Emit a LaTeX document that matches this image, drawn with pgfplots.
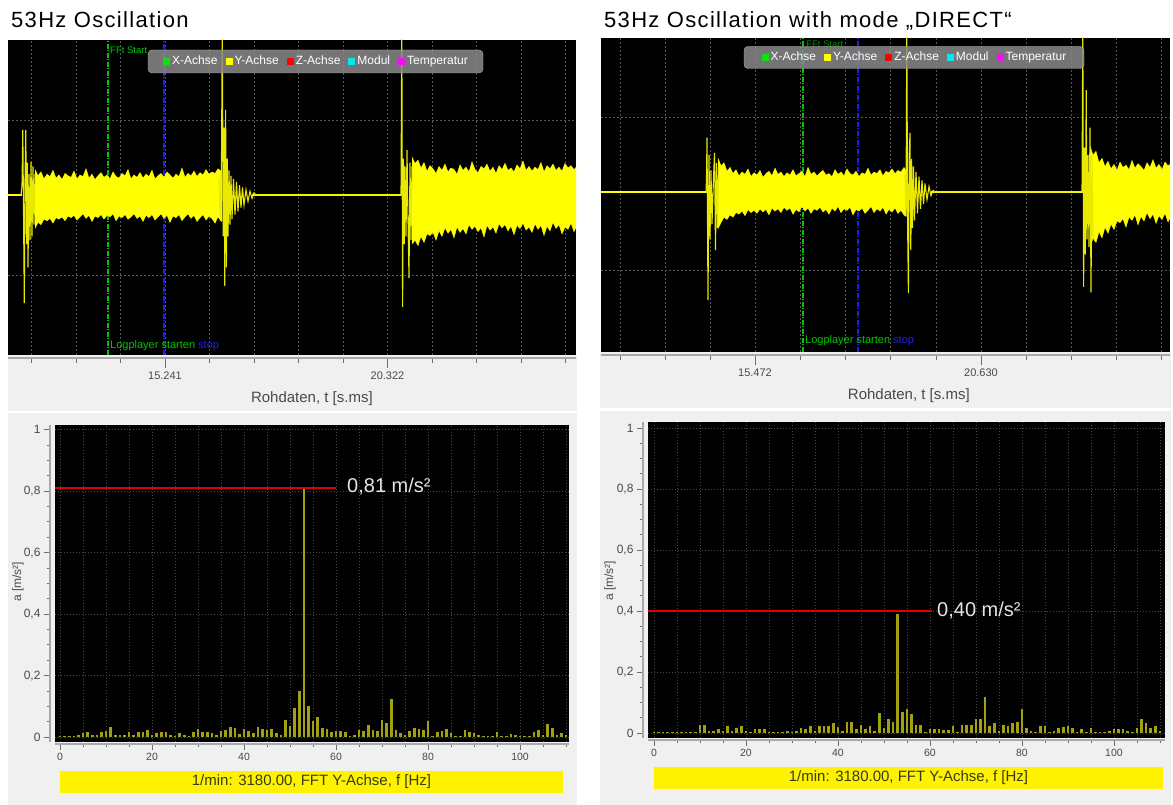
\documentclass[border=0pt]{standalone}
\usepackage{fontspec}
\setmainfont{Liberation Sans}
\newfontfamily\titlefont[LetterSpace=6]{Liberation Sans}
\usepackage{pgfplots}
\usepackage{pgfplotstable}
\pgfplotsset{compat=1.18}
\definecolor{panelgray}{HTML}{F0F0F0}
\definecolor{rulergray}{HTML}{A8A8A8}
\definecolor{tickgray}{HTML}{6E6E6E}
\definecolor{labelgray}{HTML}{4A4A4A}
\definecolor{topgrid}{HTML}{555555}
\definecolor{botgrid}{HTML}{474747}
\definecolor{sigyellow}{HTML}{FFFF00}
\definecolor{spikeyellow}{HTML}{E8E800}
\definecolor{barolive}{HTML}{A0A010}
\definecolor{mkgreen}{HTML}{00C800}
\definecolor{mkblue}{HTML}{2020F0}
\definecolor{redline}{HTML}{E00000}
\definecolor{valtext}{HTML}{E4E4E4}
\definecolor{legfill}{HTML}{8A8A8A}
\definecolor{barlabel}{HTML}{3A3A1A}
\definecolor{lgreen}{HTML}{10E010}
\definecolor{lcyan}{HTML}{00E8F0}
\definecolor{lmag}{HTML}{F010F0}

\pgfplotstableread{
f a
0 0.003
1 0.004
2 0.004
3 0.005
4 0.006
5 0.014
6 0.016
7 0.008
8 0.006
9 0.015
10 0.020
11 0.034
12 0.006
13 0.006
14 0.008
15 0.016
16 0.008
17 0.018
18 0.018
19 0.024
20 0.006
21 0.012
22 0.018
23 0.018
24 0.006
25 0.004
26 0.014
27 0.008
28 0.004
29 0.018
30 0.026
31 0.016
32 0.018
33 0.014
34 0.008
35 0.020
36 0.022
37 0.032
38 0.028
39 0.010
40 0.026
41 0.020
42 0.012
43 0.032
44 0.026
45 0.022
46 0.026
47 0.014
48 0.006
49 0.057
50 0.036
51 0.093
52 0.150
53 0.810
54 0.102
55 0.052
56 0.064
57 0.030
58 0.025
59 0.016
60 0.020
61 0.020
62 0.016
63 0.004
64 0.006
65 0.022
66 0.020
67 0.040
68 0.022
69 0.020
70 0.057
71 0.045
72 0.123
73 0.022
74 0.012
75 0.006
76 0.020
77 0.028
78 0.026
79 0.024
80 0.052
81 0.004
82 0.016
83 0.020
84 0.026
85 0.012
86 0.004
87 0.005
88 0.024
89 0.016
90 0.012
91 0.006
92 0.004
93 0.004
94 0.004
95 0.016
96 0.004
97 0.004
98 0.010
99 0.006
100 0.004
101 0.004
102 0.004
103 0.016
104 0.022
105 0.006
106 0.044
107 0.028
108 0.006
109 0.012
110 0.006
}\fftleft

\pgfplotstableread{
f a
0 0.003
1 0.003
2 0.003
3 0.004
4 0.004
5 0.003
6 0.004
7 0.004
8 0.004
9 0.004
10 0.027
11 0.027
12 0.005
13 0.008
14 0.013
15 0.006
16 0.024
17 0.008
18 0.016
19 0.024
20 0.006
21 0.004
22 0.014
23 0.014
24 0.014
25 0.004
26 0.004
27 0.004
28 0.004
29 0.006
30 0.004
31 0.008
32 0.016
33 0.012
34 0.024
35 0.008
36 0.022
37 0.022
38 0.022
39 0.032
40 0.020
41 0.006
42 0.035
43 0.035
44 0.014
45 0.027
46 0.014
47 0.024
48 0.006
49 0.065
50 0.016
51 0.046
52 0.035
53 0.390
54 0.070
55 0.078
56 0.062
57 0.027
58 0.027
59 0.004
60 0.012
61 0.012
62 0.012
63 0.010
64 0.010
65 0.022
66 0.004
67 0.027
68 0.027
69 0.027
70 0.046
71 0.046
72 0.118
73 0.024
74 0.032
75 0.008
76 0.027
77 0.024
78 0.033
79 0.036
80 0.078
81 0.018
82 0.006
83 0.004
84 0.024
85 0.022
86 0.004
87 0.006
88 0.018
89 0.020
90 0.022
91 0.016
92 0.004
93 0.014
94 0.004
95 0.016
96 0.004
97 0.004
98 0.004
99 0.006
100 0.012
101 0.014
102 0.014
103 0.006
104 0.004
105 0.016
106 0.045
107 0.033
108 0.016
109 0.022
110 0.006
}\fftright

\pgfplotsset{
  topplot/.style={
    scale only axis, clip=true,
    axis x line*=bottom, axis y line*=left,
    axis x line shift=3pt,
    x axis line style={draw=rulergray, line width=2pt},
    y axis line style={draw=none},
    tick align=outside,
    xtick style={draw=tickgray, line width=0.8pt},
    ytick style={draw=none},
    major tick length=10pt, minor tick length=5pt,
    ytick={-1,1}, yticklabels={},
    xmajorgrids, xminorgrids, ymajorgrids,
    grid style={draw=topgrid, dash pattern=on 2pt off 2pt, line width=0.7pt},
    minor grid style={draw=topgrid, dash pattern=on 2pt off 2pt, line width=0.7pt},
    xticklabel style={font=\fontsize{11}{13}\selectfont, text=labelgray},
    xlabel style={font=\fontsize{15}{18}\selectfont, text=labelgray, anchor=center},
  },
  fftplot/.style={
    scale only axis, clip=true,
    axis x line*=bottom, axis y line*=left,
    axis x line shift=2pt, axis y line shift=5pt,
    axis line style={draw=rulergray, line width=1.5pt},
    tick align=outside,
    tick style={draw=tickgray, line width=0.8pt},
    major tick length=6pt, minor tick length=3.5pt,
    xtick={0,20,40,60,80,100}, xticklabels={0,20,40,60,80,100},
    minor xtick={5,10,15,25,30,35,45,50,55,65,70,75,85,90,95,105,110},
    ytick={0,0.2,0.4,0.6,0.8,1}, yticklabels={0,{0,2},{0,4},{0,6},{0,8},1},
    minor ytick={0.05,0.1,0.15,0.25,0.3,0.35,0.45,0.5,0.55,0.65,0.7,0.75,0.85,0.9,0.95},
    xmajorgrids, xminorgrids, ymajorgrids,
    grid style={draw=botgrid, dash pattern=on 1pt off 2pt, line width=0.7pt},
    minor grid style={draw=botgrid, dash pattern=on 1pt off 2pt, line width=0.7pt},
    xticklabel style={font=\fontsize{10.5}{12}\selectfont, text=labelgray},
    yticklabel style={font=\fontsize{12}{14}\selectfont, text=labelgray},
  },
}
\newcommand{\lsq}[1]{\textcolor{#1}{\rule[-0.3pt]{7pt}{7pt}}\hspace{2pt}}

\begin{document}
\begin{tikzpicture}[x=1pt,y=1pt]
\useasboundingbox (0,0) rectangle (1173,805);
\fill[white] (0,0) rectangle (1173,805);
% panels
\fill[panelgray] (8,0) rectangle (577,450);
\fill[panelgray] (600,0) rectangle (1171,453);
\fill[white] (8,391.5) rectangle (577,394);
\fill[white] (600,394) rectangle (1171,396.5);
% black plot areas
\fill[black] (8,450) rectangle (576,765);
\fill[black] (601,453) rectangle (1170,767);
\fill[black] (55,63) rectangle (569,380);
\fill[black] (648,67) rectangle (1165,383);

% titles
\node[anchor=base west, inner sep=0pt, font=\titlefont\fontsize{22}{26}\selectfont] at (11,777) {53Hz Oscillation};
\node[anchor=base west, inner sep=0pt, font=\titlefont\fontsize{22}{26}\selectfont] at (604,777) {53Hz Oscillation with mode „DIRECT“};

% ---------------- top left: raw data ----------------
\begin{axis}[topplot, at={(8pt,450pt)}, anchor=south west, width=568pt, height=315pt,
  xmin=8, xmax=576, ymin=-2.03, ymax=2.03,
  xtick={165,387.5}, xticklabels={15.241,20.322},
  minor xtick={31.5,76,120.5,209.5,254,298.5,343,432,476.5,521,565.5},
  xlabel={Rohdaten, t [s.ms]}, xlabel style={at={(axis description cs:0.535,-0.137)}}]
\addplot[mkgreen, line width=1.2pt, dash pattern=on 5pt off 1.5pt on 1pt off 1.5pt] coordinates {(108,-2.03) (108,2.03)};
\addplot[mkblue, line width=1.2pt, dash pattern=on 5pt off 1.5pt on 1pt off 1.5pt] coordinates {(164,-2.03) (164,2.03)};
% noise band 1
\addplot[fill=sigyellow, draw=sigyellow, line width=0.4pt] coordinates {
(35,0.36) (38,0.28) (41,0.33) (44,0.24) (47,0.30) (50,0.27) (53,0.35) (56,0.25) (59,0.29) (62,0.23) (65,0.31) (68,0.28) (71,0.26) (74,0.34) (77,0.24) (80,0.29) (83,0.27) (86,0.37) (89,0.25) (92,0.30) (95,0.23) (98,0.28) (101,0.32) (104,0.26) (107,0.29) (110,0.24) (113,0.33) (116,0.27) (119,0.25) (122,0.31) (125,0.28) (128,0.36) (131,0.24) (134,0.29) (137,0.26) (140,0.32) (143,0.25) (146,0.30) (149,0.27) (152,0.35) (155,0.24) (158,0.28) (161,0.31) (164,0.26) (167,0.33) (170,0.29) (173,0.25) (176,0.30) (179,0.27) (182,0.38) (185,0.26) (188,0.31) (191,0.28) (194,0.34) (197,0.27) (200,0.32) (203,0.29) (206,0.36) (209,0.30) (212,0.33) (215,0.31) (218,0.37) (221,0.34) (222,0.32)
(222,-0.31) (221,-0.30) (218,-0.25) (215,-0.33) (212,-0.27) (209,-0.24) (206,-0.29) (203,-0.22) (200,-0.26) (197,-0.31) (194,-0.23) (191,-0.27) (188,-0.21) (185,-0.25) (182,-0.30) (179,-0.22) (176,-0.26) (173,-0.24) (170,-0.32) (167,-0.23) (164,-0.27) (161,-0.21) (158,-0.25) (155,-0.29) (152,-0.22) (149,-0.26) (146,-0.23) (143,-0.31) (140,-0.24) (137,-0.27) (134,-0.21) (131,-0.25) (128,-0.28) (125,-0.22) (122,-0.26) (119,-0.24) (116,-0.30) (113,-0.21) (110,-0.25) (107,-0.23) (104,-0.28) (101,-0.22) (98,-0.26) (95,-0.24) (92,-0.31) (89,-0.23) (86,-0.27) (83,-0.21) (80,-0.25) (77,-0.29) (74,-0.23) (71,-0.26) (68,-0.24) (65,-0.30) (62,-0.25) (59,-0.28) (56,-0.26) (53,-0.33) (50,-0.27) (47,-0.30) (44,-0.28) (41,-0.35) (38,-0.32) (35,-0.40)};
% noise band 2
\addplot[fill=sigyellow, draw=sigyellow, line width=0.4pt] coordinates {
(412,0.52) (415,0.44) (418,0.48) (421,0.38) (424,0.45) (427,0.34) (430,0.41) (433,0.37) (436,0.31) (439,0.40) (442,0.35) (445,0.43) (448,0.33) (451,0.38) (454,0.36) (457,0.30) (460,0.42) (463,0.35) (466,0.39) (469,0.33) (472,0.46) (475,0.36) (478,0.32) (481,0.40) (484,0.37) (487,0.43) (490,0.34) (493,0.39) (496,0.31) (499,0.41) (502,0.36) (505,0.44) (508,0.35) (511,0.38) (514,0.33) (517,0.42) (520,0.37) (523,0.47) (526,0.35) (529,0.40) (532,0.34) (535,0.39) (538,0.36) (541,0.45) (544,0.33) (547,0.41) (550,0.37) (553,0.43) (556,0.35) (559,0.39) (562,0.34) (565,0.44) (568,0.38) (571,0.41) (574,0.36) (577,0.40)
(577,-0.36) (574,-0.44) (571,-0.33) (568,-0.41) (565,-0.38) (562,-0.47) (559,-0.35) (556,-0.40) (553,-0.32) (550,-0.43) (547,-0.37) (544,-0.49) (541,-0.36) (538,-0.41) (535,-0.34) (532,-0.45) (529,-0.38) (526,-0.42) (523,-0.33) (520,-0.40) (517,-0.36) (514,-0.48) (511,-0.37) (508,-0.43) (505,-0.35) (502,-0.39) (499,-0.34) (496,-0.46) (493,-0.38) (490,-0.42) (487,-0.36) (484,-0.51) (481,-0.39) (478,-0.44) (475,-0.37) (472,-0.41) (469,-0.35) (466,-0.47) (463,-0.40) (460,-0.45) (457,-0.38) (454,-0.52) (451,-0.41) (448,-0.46) (445,-0.39) (442,-0.50) (439,-0.43) (436,-0.55) (433,-0.45) (430,-0.49) (427,-0.47) (424,-0.58) (421,-0.50) (418,-0.62) (415,-0.55) (412,-0.60)};
% flat parts
\addplot[sigyellow, line width=2.5pt] coordinates {(8,0.03) (21.5,0.03)};
\addplot[sigyellow, line width=2.5pt] coordinates {(252,0.03) (401.3,0.03)};
% spikes
\addplot[spikeyellow, line width=1.1pt] coordinates {
(21,0.03) (22,0.15) (22.8,0.87) (23.6,-0.3) (24.3,-1.36) (25,0.2) (25.8,0.87) (26.6,-0.6) (27.3,0.45) (28,-0.9) (29,0.3) (30,-0.55) (31,0.46) (32,-0.5) (33,0.4) (34,-0.35) (35,0.3)};
\addplot[spikeyellow, line width=1.1pt] coordinates {
(219,0.25) (220.5,-0.3) (221.5,0.5) (222.3,2.2) (223.2,-0.5) (224,0.9) (224.8,-1.14) (225.6,1.13) (226.4,-0.9) (227.2,0.5) (228,-0.5) (229,0.35) (230,-0.35) (231,0.28) (232,-0.28) (233.5,0.24) (235,-0.22) (236.5,0.2) (238,-0.18) (239.5,0.16) (241,-0.13) (242.5,0.13) (244,-0.1) (246,0.1) (248,-0.05) (250,0.08) (252,-0.01) (254,0.06) (256,0.03)
(401,0.03) (401.8,2.2) (402.6,-1.41) (403.4,0.5) (404.2,-0.6) (405,0.4) (406,-0.5) (407,0.61) (408,-0.3) (409,-1.04) (410,0.45) (411,-0.55) (412,0.4)};
\end{axis}

% ---------------- top right: raw data ----------------
\begin{axis}[topplot, at={(601pt,453pt)}, anchor=south west, width=569pt, height=314pt,
  xmin=601, xmax=1170, ymin=-2.07, ymax=2.03,
  xtick={755,981}, xticklabels={15.472,20.630},
  minor xtick={620,665,710,800,845,890,936,1026,1071,1116,1161},
  xlabel={Rohdaten, t [s.ms]}, xlabel style={at={(axis description cs:0.541,-0.14)}}]
\addplot[mkgreen, line width=1.2pt, dash pattern=on 5pt off 1.5pt on 1pt off 1.5pt] coordinates {(803,-2.07) (803,2.03)};
\addplot[mkblue, line width=1.2pt, dash pattern=on 5pt off 1.5pt on 1pt off 1.5pt] coordinates {(858,-2.07) (858,2.03)};
\addplot[fill=sigyellow, draw=sigyellow, line width=0.4pt] coordinates {
(718,0.46) (721,0.36) (724,0.40) (727,0.29) (730,0.34) (733,0.26) (736,0.31) (739,0.23) (742,0.28) (745,0.25) (748,0.32) (751,0.22) (754,0.27) (757,0.24) (760,0.30) (763,0.21) (766,0.26) (769,0.29) (772,0.23) (775,0.33) (778,0.25) (781,0.28) (784,0.22) (787,0.27) (790,0.24) (793,0.31) (796,0.23) (799,0.26) (802,0.29) (805,0.22) (808,0.34) (811,0.25) (814,0.28) (817,0.23) (820,0.27) (823,0.30) (826,0.24) (829,0.26) (832,0.22) (835,0.31) (838,0.25) (841,0.28) (844,0.23) (847,0.32) (850,0.26) (853,0.24) (856,0.29) (859,0.22) (862,0.27) (865,0.25) (868,0.33) (871,0.24) (874,0.28) (877,0.26) (880,0.31) (883,0.23) (886,0.29) (889,0.27) (892,0.32) (895,0.26) (898,0.30) (901,0.28) (904,0.34) (906,0.30)
(906,-0.30) (904,-0.28) (901,-0.22) (898,-0.26) (895,-0.19) (892,-0.24) (889,-0.21) (886,-0.27) (883,-0.18) (880,-0.23) (877,-0.20) (874,-0.25) (871,-0.17) (868,-0.22) (865,-0.26) (862,-0.19) (859,-0.23) (856,-0.21) (853,-0.28) (850,-0.18) (847,-0.22) (844,-0.20) (841,-0.25) (838,-0.17) (835,-0.23) (832,-0.19) (829,-0.27) (826,-0.21) (823,-0.24) (820,-0.18) (817,-0.22) (814,-0.20) (811,-0.26) (808,-0.19) (805,-0.23) (802,-0.17) (799,-0.24) (796,-0.21) (793,-0.27) (790,-0.19) (787,-0.22) (784,-0.18) (781,-0.25) (778,-0.20) (775,-0.23) (772,-0.19) (769,-0.28) (766,-0.21) (763,-0.24) (760,-0.20) (757,-0.26) (754,-0.22) (751,-0.25) (748,-0.21) (745,-0.29) (742,-0.23) (739,-0.27) (736,-0.25) (733,-0.31) (730,-0.28) (727,-0.34) (724,-0.31) (721,-0.38) (718,-0.46)};
\addplot[fill=sigyellow, draw=sigyellow, line width=0.4pt] coordinates {
(1090,0.62) (1093,0.50) (1096,0.55) (1099,0.40) (1102,0.46) (1105,0.35) (1108,0.42) (1111,0.32) (1114,0.38) (1117,0.30) (1120,0.41) (1123,0.34) (1126,0.37) (1129,0.31) (1132,0.43) (1135,0.33) (1138,0.39) (1141,0.35) (1144,0.30) (1147,0.40) (1150,0.34) (1153,0.44) (1156,0.33) (1159,0.38) (1162,0.31) (1165,0.41) (1168,0.36) (1171,0.39)
(1171,-0.30) (1168,-0.37) (1165,-0.26) (1162,-0.34) (1159,-0.29) (1156,-0.39) (1153,-0.27) (1150,-0.33) (1147,-0.25) (1144,-0.36) (1141,-0.30) (1138,-0.41) (1135,-0.28) (1132,-0.35) (1129,-0.31) (1126,-0.44) (1123,-0.33) (1120,-0.38) (1117,-0.36) (1114,-0.47) (1111,-0.40) (1108,-0.52) (1105,-0.44) (1102,-0.58) (1099,-0.50) (1096,-0.64) (1093,-0.58) (1090,-0.72)};
\addplot[sigyellow, line width=2.5pt] coordinates {(601,0.02) (706.5,0.02)};
\addplot[sigyellow, line width=2.5pt] coordinates {(931,0.02) (1082.5,0.02)};
\addplot[spikeyellow, line width=1.1pt] coordinates {
(706,0.02) (706.5,0.2) (707,0.73) (708,-1.39) (709,0.5) (710,-0.6) (711,0.3) (712,-0.4) (713.5,0.2) (714.5,0.53) (715.5,-0.74) (716.5,0.4) (717.5,-0.45) (718.5,0.35)};
\addplot[spikeyellow, line width=1.1pt] coordinates {
(905,0.25) (906,-0.3) (906.8,2.2) (907.6,-0.4) (908.4,-1.3) (909.2,0.5) (910,0.79) (910.8,-0.74) (911.6,0.45) (912.5,-0.45) (913.5,0.35) (914.5,-0.35) (916,0.28) (917.5,-0.26) (919,0.22) (920.5,-0.2) (922,0.17) (923.5,-0.14) (925,0.13) (927,-0.08) (929,0.09) (931,-0.03) (933,0.04) (935,0.02)
(1082,0.02) (1082.8,2.2) (1083.6,-1.22) (1084.5,0.6) (1085.3,-0.8) (1086.2,1.35) (1087,-0.6) (1088,0.5) (1089,-0.7) (1090,0.86) (1091,-1.29) (1092,0.5) (1093,-0.6)};
\end{axis}

% ---------------- bottom left: FFT ----------------
\begin{axis}[fftplot, at={(55pt,63pt)}, anchor=south west, width=514pt, height=317pt,
  xmin=-1.09, xmax=110.65, ymin=-0.016, ymax=1.015]
\addplot[ycomb, draw=barolive, line width=2.6pt, mark=none] table[x=f,y=a]{\fftleft};
\addplot[redline, line width=2.6pt] coordinates {(-1.09,0.81) (60,0.81)};
\end{axis}

% ---------------- bottom right: FFT ----------------
\begin{axis}[fftplot, at={(648pt,67pt)}, anchor=south west, width=517pt, height=316pt,
  xmin=-1.3, xmax=111.09, ymin=-0.0164, ymax=1.0197]
\addplot[ycomb, draw=barolive, line width=2.6pt, mark=none] table[x=f,y=a]{\fftright};
\addplot[redline, line width=2.6pt] coordinates {(-1.3,0.40) (60.4,0.40)};
\end{axis}

% value labels
\node[anchor=west, text=valtext, font=\fontsize{20}{24}\selectfont, inner sep=0pt] at (347,318) {0,81 m/s²};
\node[anchor=west, text=valtext, font=\fontsize{20}{24}\selectfont, inner sep=0pt] at (937,194) {0,40 m/s²};

% FFT x-labels (yellow bars)
\node[fill=yellow, minimum width=503pt, minimum height=22pt, inner sep=0pt, text=barlabel, font=\fontsize{15}{18}\selectfont] at (311.5,23) {1/min: 3180.00, FFT Y-Achse, f [Hz]};
\node[fill=yellow, minimum width=509pt, minimum height=22pt, inner sep=0pt, text=barlabel, font=\fontsize{15}{18}\selectfont] at (908.5,27) {1/min: 3180.00, FFT Y-Achse, f [Hz]};

% FFT y-labels
\node[rotate=90, text=labelgray, font=\fontsize{12}{14}\selectfont, inner sep=0pt] at (18,223) {a [m/s²]};
\node[rotate=90, text=labelgray, font=\fontsize{12}{14}\selectfont, inner sep=0pt] at (610,224) {a [m/s²]};

% marker texts
\node[anchor=west, text=mkgreen, font=\fontsize{9.5}{11}\selectfont, inner sep=0pt] at (110,755) {FFt Start};
\node[anchor=west, text=mkgreen!70!black, font=\fontsize{9.5}{11}\selectfont, inner sep=0pt] at (806,761) {FFt Start};
\node[anchor=west, text=mkgreen, font=\fontsize{11}{13}\selectfont, inner sep=0pt] at (110,459) {Logplayer starten};
\node[anchor=west, text=mkblue, font=\fontsize{11}{13}\selectfont, inner sep=0pt] at (198,459) {stop};
\node[anchor=west, text=mkgreen, font=\fontsize{11}{13}\selectfont, inner sep=0pt] at (805,464) {Logplayer starten};
\node[anchor=west, text=mkblue, font=\fontsize{11}{13}\selectfont, inner sep=0pt] at (893,464) {stop};

% legends
\node[fill=legfill, fill opacity=0.85, text opacity=1, draw=gray!60, rounded corners=4pt, minimum width=335pt, minimum height=23pt, inner sep=0pt, text=white, font=\fontsize{12}{14}\selectfont] at (315.5,743.5)
 {\lsq{lgreen}X-Achse\hspace{8pt}\lsq{sigyellow}Y-Achse\hspace{8pt}\lsq{red}Z-Achse\hspace{8pt}\lsq{lcyan}Modul\hspace{8pt}\lsq{lmag}Temperatur};
\node[fill=legfill, fill opacity=0.85, text opacity=1, draw=gray!60, rounded corners=4pt, minimum width=340pt, minimum height=22pt, inner sep=0pt, text=white, font=\fontsize{12}{14}\selectfont] at (914,747.5)
 {\lsq{lgreen}X-Achse\hspace{8pt}\lsq{sigyellow}Y-Achse\hspace{8pt}\lsq{red}Z-Achse\hspace{8pt}\lsq{lcyan}Modul\hspace{8pt}\lsq{lmag}Temperatur};
\end{tikzpicture}
\end{document}
